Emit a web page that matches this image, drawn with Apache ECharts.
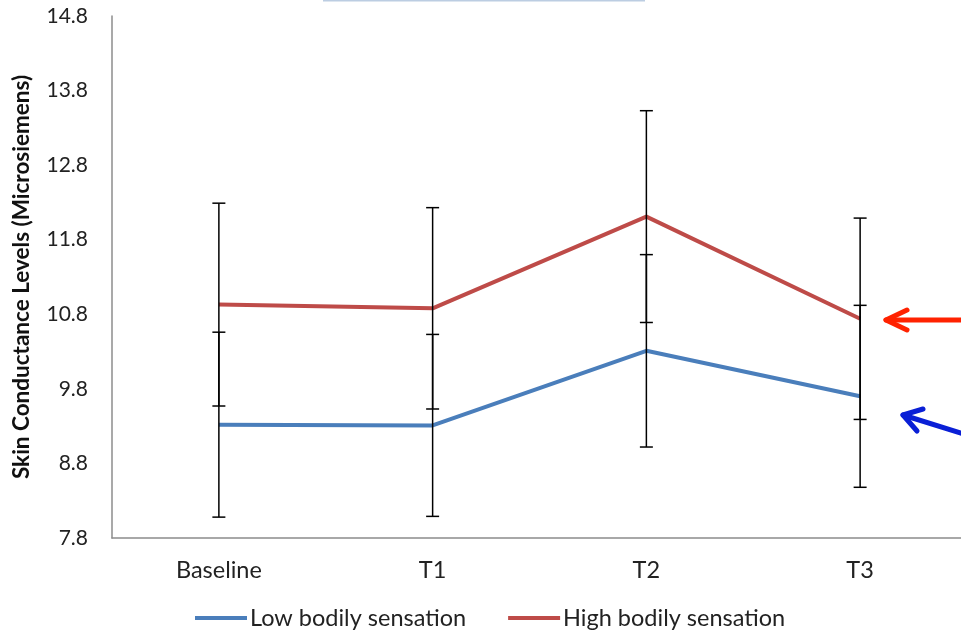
<!DOCTYPE html>
<html>
<head>
<meta charset="utf-8">
<script src="https://cdn.jsdelivr.net/npm/echarts@6/dist/echarts.min.js"></script>
<style>
html,body{margin:0;padding:0;background:#fff;}
#chart{width:961px;height:632px;}
</style>
</head>
<body>
<div id="chart"></div>
<script>
const categories = ['Baseline', 'T1', 'T2', 'T3'];
const lowMeans = [9.32, 9.31, 10.31, 9.70];
const lowErr = [1.24, 1.22, 1.29, 1.22];
const highMeans = [10.93, 10.88, 12.11, 10.74];
const highErr = [1.36, 1.35, 1.42, 1.35];
const yTicks = [7.8, 8.8, 9.8, 10.8, 11.8, 12.8, 13.8, 14.8];
const seriesNames = ['Low bodily sensation', 'High bodily sensation'];
const yTitle = 'Skin Conductance Levels (Microsiemens)';

const FONT = 'Lato';
const chart = echarts.init(document.getElementById('chart'), null, {renderer: 'canvas'});

function errData(means, errs) {
  return means.map((m, i) => [i, m - errs[i], m + errs[i]]);
}
function renderErr(params, api) {
  const x = api.value(0);
  const lo = api.coord([x, api.value(1)]);
  const hi = api.coord([x, api.value(2)]);
  const hw = 6.5;
  const st = {stroke: '#000', lineWidth: 1.5, fill: null};
  return {
    type: 'group',
    children: [
      {type: 'line', shape: {x1: lo[0], y1: lo[1], x2: hi[0], y2: hi[1]}, style: st},
      {type: 'line', shape: {x1: lo[0] - hw, y1: lo[1], x2: lo[0] + hw, y2: lo[1]}, style: st},
      {type: 'line', shape: {x1: hi[0] - hw, y1: hi[1], x2: hi[0] + hw, y2: hi[1]}, style: st}
    ]
  };
}

const option = {
  backgroundColor: '#ffffff',
  animation: false,
  textStyle: {fontFamily: FONT},
  grid: {left: 112, top: 16, width: 855, height: 522, containLabel: false, outerBoundsMode: 'none'},
  legend: {
    data: seriesNames,
    left: 190,
    top: 601,
    icon: 'rect',
    itemWidth: 52,
    itemHeight: 4,
    itemGap: 42,
    textStyle: {fontFamily: FONT, fontSize: 23.5, color: '#222', padding: [0, 0, 0, -2]}
  },
  xAxis: {
    type: 'category',
    data: categories,
    boundaryGap: true,
    axisLine: {show: true, lineStyle: {color: '#8c8c8c', width: 1.5}},
    axisTick: {show: false},
    axisLabel: {fontFamily: FONT, fontSize: 23.5, color: '#222', margin: 20},
    splitLine: {show: false}
  },
  yAxis: {
    type: 'value',
    min: 7.8,
    max: 14.8,
    interval: 0.2,
    name: yTitle,
    nameLocation: 'middle',
    nameGap: 79,
    nameRotate: 90,
    nameTextStyle: {fontFamily: FONT, fontSize: 22.5, fontWeight: 'bold', color: '#111'},
    axisLine: {show: true, lineStyle: {color: '#8c8c8c', width: 1.5}},
    axisTick: {show: false},
    splitLine: {show: false},
    axisLabel: {
      fontFamily: FONT, fontSize: 21, color: '#222', margin: 24,
      formatter: function (v) {
        for (const t of yTicks) {
          if (Math.abs(v - t) < 1e-6) return t.toFixed(1);
        }
        return '';
      }
    }
  },
  series: [
    {
      name: seriesNames[0], type: 'line', data: lowMeans,
      symbol: 'none', lineStyle: {color: '#4a7ebb', width: 4},
      itemStyle: {color: '#4a7ebb'}, z: 2
    },
    {
      name: seriesNames[1], type: 'line', data: highMeans,
      symbol: 'none', lineStyle: {color: '#be4b48', width: 4},
      itemStyle: {color: '#be4b48'}, z: 2
    },
    {
      name: 'errLow', type: 'custom', renderItem: renderErr,
      data: errData(lowMeans, lowErr), z: 5, silent: true,
      encode: {x: 0, y: [1, 2]}
    },
    {
      name: 'errHigh', type: 'custom', renderItem: renderErr,
      data: errData(highMeans, highErr), z: 5, silent: true,
      encode: {x: 0, y: [1, 2]}
    }
  ],
  graphic: [
    {type: 'line', shape: {x1: 323, y1: 0.5, x2: 645, y2: 0.5}, style: {stroke: '#bccde2', lineWidth: 2}},
    {type: 'polyline', shape: {points: [[961, 320], [886, 320]]}, style: {stroke: '#ff2200', lineWidth: 5, lineCap: 'round', fill: null}},
    {type: 'polyline', shape: {points: [[907, 310], [886, 320], [907, 330]]}, style: {stroke: '#ff2200', lineWidth: 5, lineCap: 'round', lineJoin: 'round', fill: null}},
    {type: 'polyline', shape: {points: [[964, 434], [903, 415]]}, style: {stroke: '#0a1fd6', lineWidth: 5, lineCap: 'round', fill: null}},
    {type: 'polyline', shape: {points: [[923, 409], [903, 415], [917, 431]]}, style: {stroke: '#0a1fd6', lineWidth: 5, lineCap: 'round', lineJoin: 'round', fill: null}}
  ]
};
chart.setOption(option);
</script>
</body>
</html>
